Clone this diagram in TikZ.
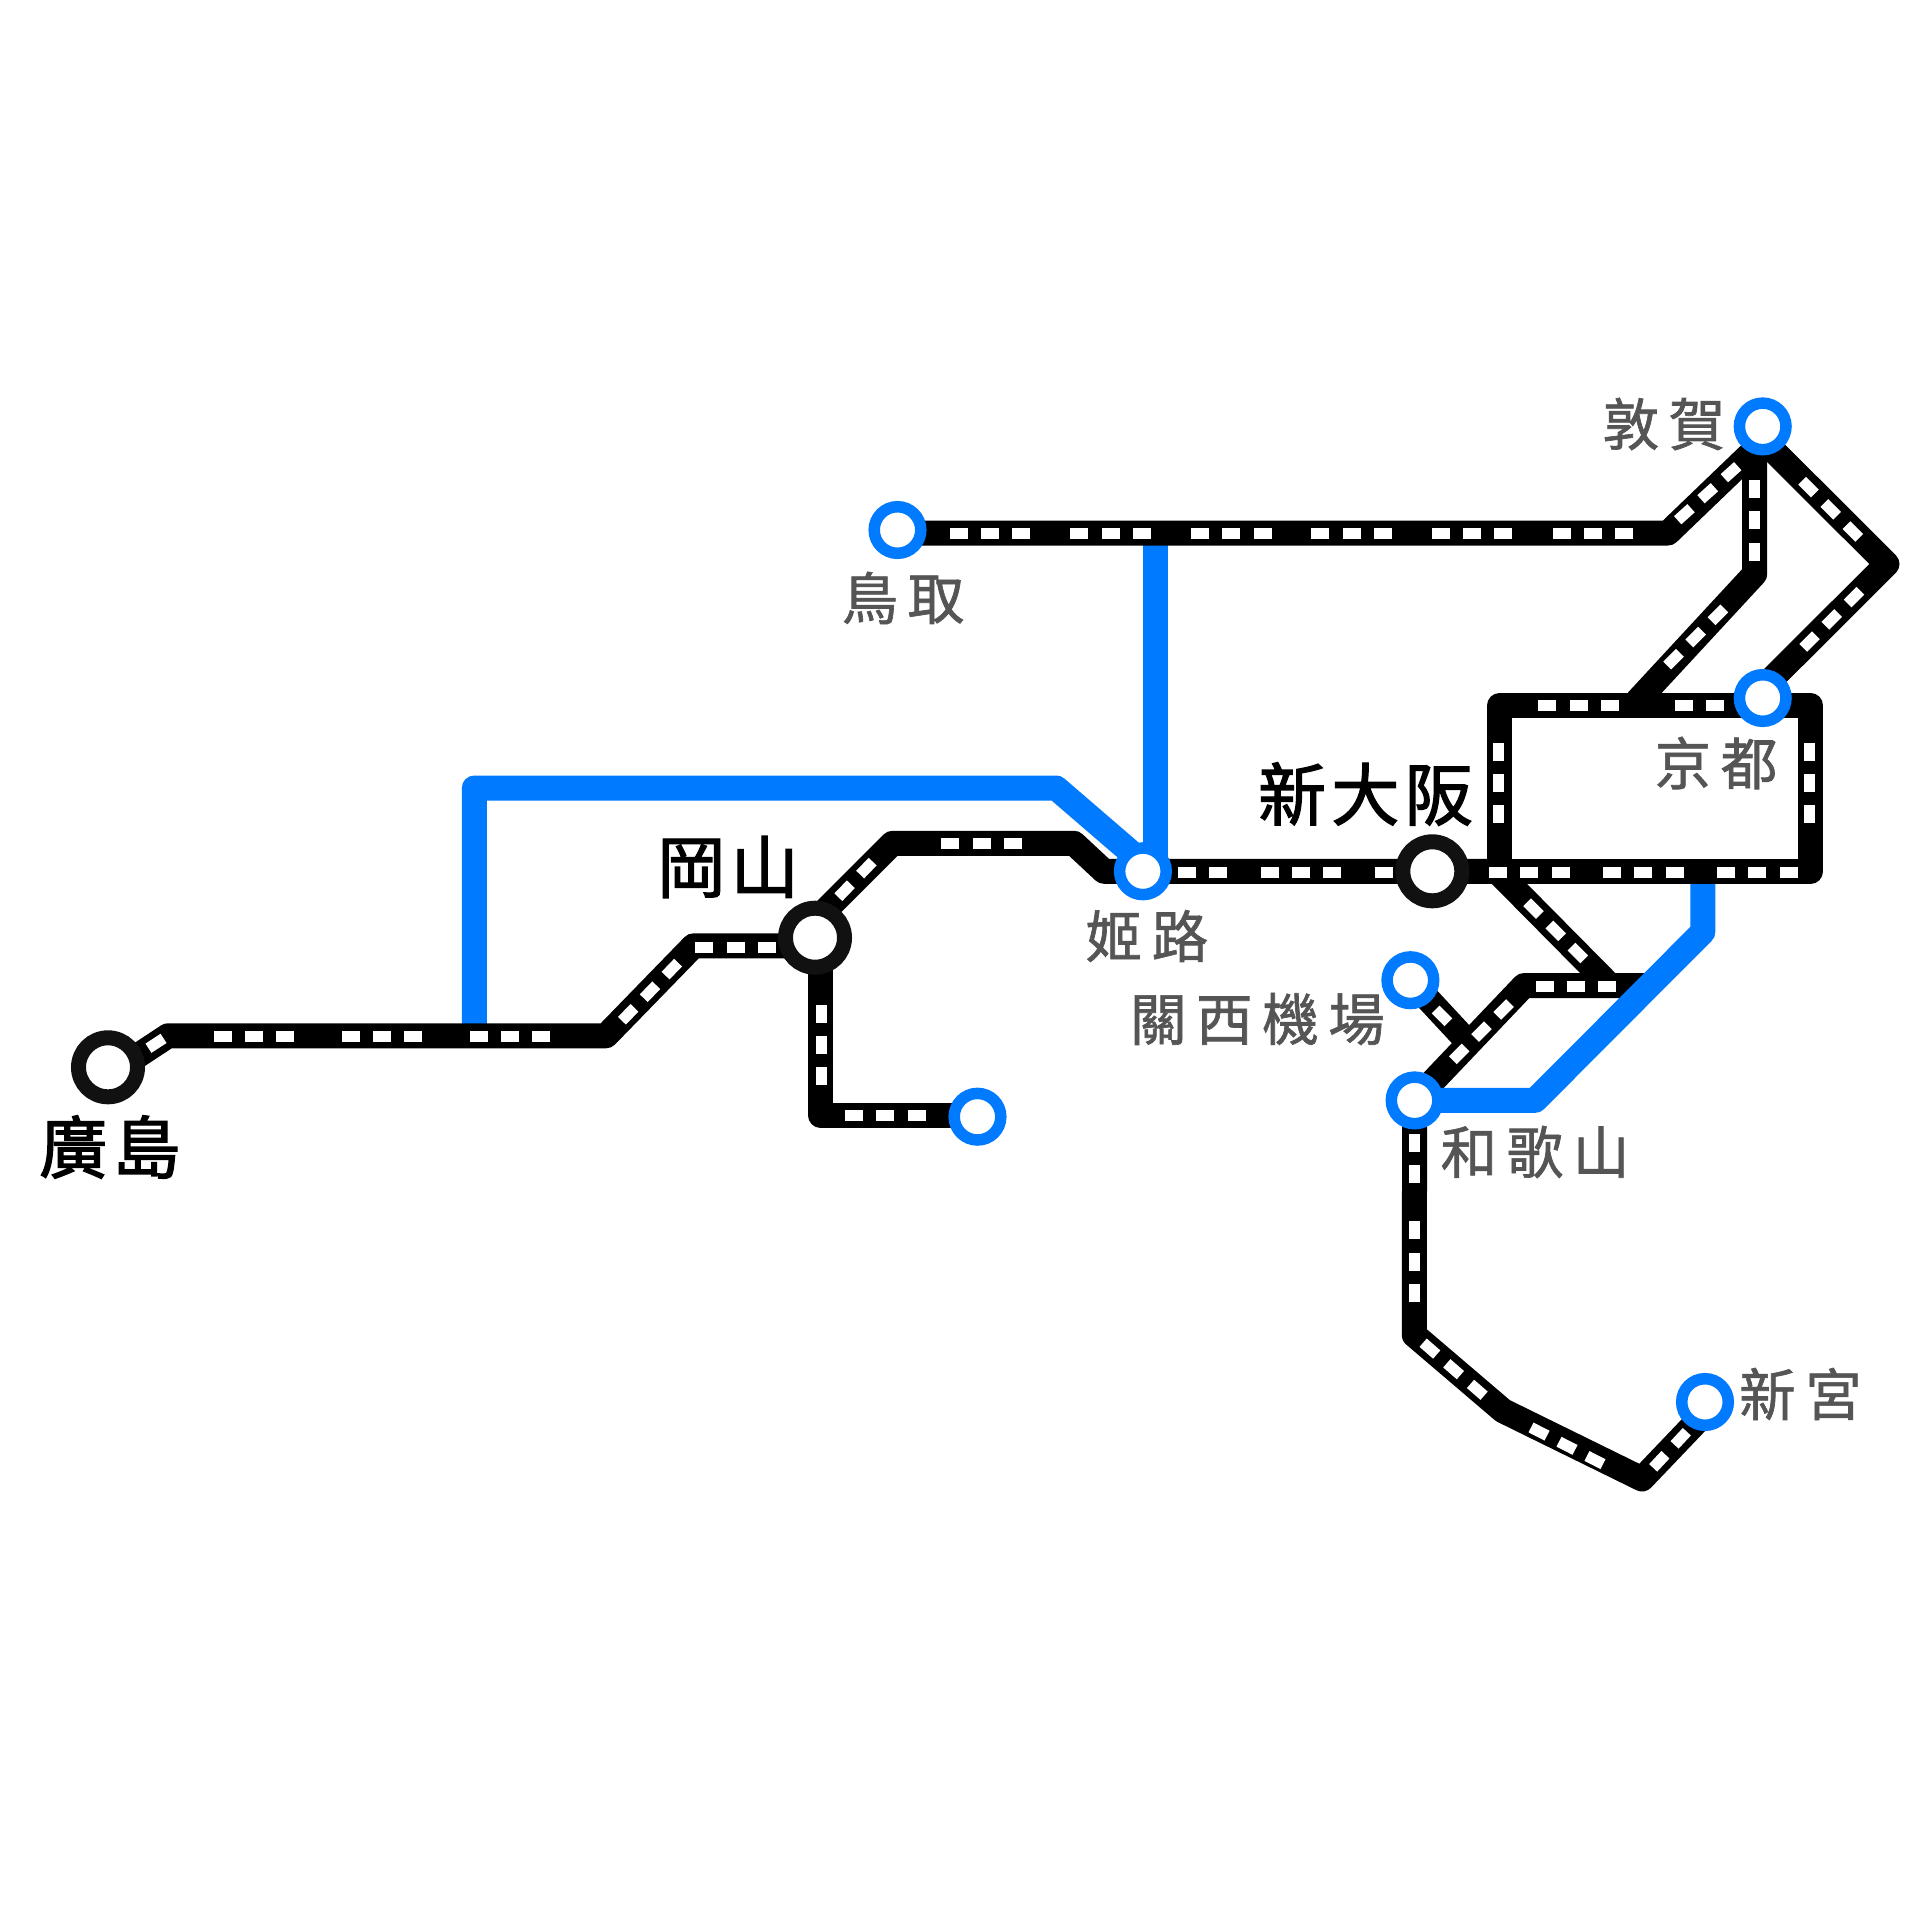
\documentclass[tikz,border=0pt]{standalone}
\usepackage{fontspec}
\newfontfamily\graycjk[LetterSpace=17,FakeBold=1.2]{Noto Sans CJK TC}
\newfontfamily\blackcjk[LetterSpace=8,FakeBold=2]{Noto Sans CJK TC}
\definecolor{railblue}{HTML}{007AFF}
\definecolor{ringblack}{HTML}{111111}
\definecolor{labelgray}{HTML}{555555}
\pgfdeclarelayer{rail}
\pgfsetlayers{rail,main}
\tikzset{
  railblack/.style={draw=black,line width=25pt,line join=round},
  railbl/.style={draw=railblue,line width=25pt,line join=round},
  minor/.style={circle,draw=railblue,fill=white,line width=11.5pt,minimum size=46.6pt,inner sep=0pt},
  major/.style={circle,draw=ringblack,fill=white,line width=15pt,minimum size=59pt,inner sep=0pt},
  graylabel/.style={text=labelgray,font=\graycjk\fontsize{56.5pt}{60pt}\selectfont,inner sep=0pt},
  blacklabel/.style={text=black,font=\blackcjk\fontsize{68pt}{70pt}\selectfont,inner sep=0pt},
}
\newcommand\railticks[4][-1,0,1]{\begin{scope}[shift={(#2,#3)},rotate=#4]
  \foreach \k in {#1}{\fill[white] ({\k*31.4-9},-5.5) rectangle ({\k*31.4+9},5.5);}
\end{scope}}
\begin{document}
\begin{tikzpicture}[x=1pt,y=-1pt]
\useasboundingbox (0,0) rectangle (1920,1920);
% stations
\node[major] (hiro) at (108,1067.3) {};
\node[major] (oka) at (815,937.7) {};
\node[major] (shino) at (1432.3,871.3) {};
\node[minor] (hime) at (1142.9,871.3) {};
\node[minor] (tott) at (897.5,530) {};
\node[minor] (tsur) at (1762.7,426.4) {};
\node[minor] (kyo) at (1762.7,698) {};
\node[minor] (kans) at (1410.4,980.2) {};
\node[minor] (waka) at (1414.6,1100.4) {};
\node[minor] (shing) at (1705,1402) {};
\node[minor] (noname) at (977.5,1116.7) {};
% labels
\node[blacklabel] (lhiro) at (110,1147) {廣島};
\node[blacklabel] (loka) at (728,867) {岡山};
\node[blacklabel] (lshino) at (1365.5,794) {新大阪};
\node[graylabel] (lhime) at (1147,936) {姬路};
\node[graylabel] (ltott) at (903,598) {鳥取};
\node[graylabel] (ltsur) at (1664,424) {敦賀};
\node[graylabel] (lkyo) at (1716,763) {京都};
\node[graylabel] (lkans) at (1257.5,1019) {關西機場};
\node[graylabel] (lwaka) at (1535,1152) {和歌山};
\node[graylabel] (lshing) at (1800.5,1394) {新宮};
% bends
\coordinate (h1) at (168,1035.8);
\coordinate (h2) at (606,1035.8);
\coordinate (h3) at (693.5,945.8);
\coordinate (o1) at (892.5,843.3);
\coordinate (o2) at (1074,843.3);
\coordinate (o3) at (1104,871.3);
\coordinate (od) at (820.4,1115);
\coordinate (tt1) at (1668,533);
\coordinate (tt2) at (1762.7,442);
\coordinate (v1) at (1754.7,574);
\coordinate (v2) at (1633,705.5);
\coordinate (r0) at (1762.7,440);
\coordinate (r1) at (1887,564);
\coordinate (bxa) at (1499.7,705.5);
\coordinate (bxb) at (1810.7,705.5);
\coordinate (bxc) at (1810.7,871.3);
\coordinate (bxd) at (1499.7,871.3);
\coordinate (d0) at (1497,871.3);
\coordinate (d1) at (1610,985.5);
\coordinate (k1) at (1524,985.5);
\coordinate (k2) at (1648,985.5);
\coordinate (kx) at (1466,1040);
\coordinate (w1) at (1414.3,1335);
\coordinate (w2) at (1503,1410.7);
\coordinate (w3) at (1642,1479);
\coordinate (b1) at (474.3,1036);
\coordinate (b2) at (474.3,788);
\coordinate (b3) at (1056.2,788);
\coordinate (bv) at (1155,533);
\coordinate (c1) at (1702.8,871.3);
\coordinate (c2) at (1702.8,932);
\coordinate (c3) at (1535,1100.4);
\begin{pgfonlayer}{rail}
\fill[white] (0,0) rectangle (1920,1920);
% blue lines under the black ones
\draw[railbl] (b1) -- (b2) -- (b3) -- ([yshift=8.6pt]hime.center);
\draw[railbl] (bv) -- (bv |- hime.center);
% black lines
\draw[railblack] ([yshift=-8pt]hiro.center) -- (h1) -- (h2) -- (h3) -- (h3 -| oka.center);
\draw[railblack] ([yshift=17pt]oka.center) -- (o1) -- (o2) -- (o3) -- (hime.center) -- (shino.center) -- (bxd);
\draw[railblack] (oka.center -| od) -- (od) -- (od -| noname.center);
\draw[railblack] (tt1 -| tott.center) -- (tt1) -- (tt2);
\draw[railblack] (tsur.center -| v1) -- (v1) -- (v2);
\draw[railblack] (r0) -- (r1) -- ([xshift=-10pt]kyo.center);
\draw[railblack] (k2) -- (k1) -- (waka.center) -- (w1) -- (w2) -- (w3) -- ([yshift=-11pt]shing.center);
\draw[railblack] (kans.center) -- (kx);
\draw[railblack] (d0) -- (d1);
% blue over the Kansai branch
\draw[railbl] (c1) -- (c2) -- (c3) -- (waka.center);
% box
\draw[railblack] (bxa) -- (bxb) -- (bxc) -- (bxd) -- cycle;
% ticks
\railticks[0]{156}{1043.3}{33}
\railticks{254}{1036.5}{0}
\railticks{382}{1036.5}{0}
\railticks{510}{1036.5}{0}
\railticks{650}{991.7}{46}
\railticks{735.7}{947}{0}
\railticks{844.6}{890.7}{46}
\railticks{981.8}{843}{0}
\railticks{821}{1045}{90}
\railticks{885.4}{1115}{0}
\railticks{990}{533.5}{0}
\railticks{1110.6}{533.5}{0}
\railticks{1231.2}{533.5}{0}
\railticks{1351.8}{533.5}{0}
\railticks{1472}{533.5}{0}
\railticks{1593}{533.5}{0}
\railticks{1707.7}{493.2}{42}
\railticks{1754.7}{520.4}{90}
\railticks{1830.7}{509.3}{-45}
\railticks{1831.7}{619.3}{45}
\railticks{1695.7}{637}{45}
\railticks{1578.7}{705.7}{0}
\railticks{1715}{705.7}{0}
\railticks{1498.7}{783}{90}
\railticks{1809.3}{783}{90}
\railticks{1187}{872}{0}
\railticks{1301}{872}{0}
\railticks{1415}{872}{0}
\railticks{1529.3}{872}{0}
\railticks{1643.3}{872}{0}
\railticks{1757.3}{872}{0}
\railticks{1555.7}{930.8}{-45}
\railticks{1576}{986}{0}
\railticks{1481.4}{1031.6}{45}
\railticks[0]{1442}{1015.8}{-45}
\railticks{1414.3}{1143}{90}
\railticks{1414.3}{1261.7}{90}
\railticks{1453.6}{1369.2}{-41}
\railticks{1567}{1445.8}{-27}
\railticks{1680.7}{1438.3}{47}
\end{pgfonlayer}
\end{tikzpicture}
\end{document}
